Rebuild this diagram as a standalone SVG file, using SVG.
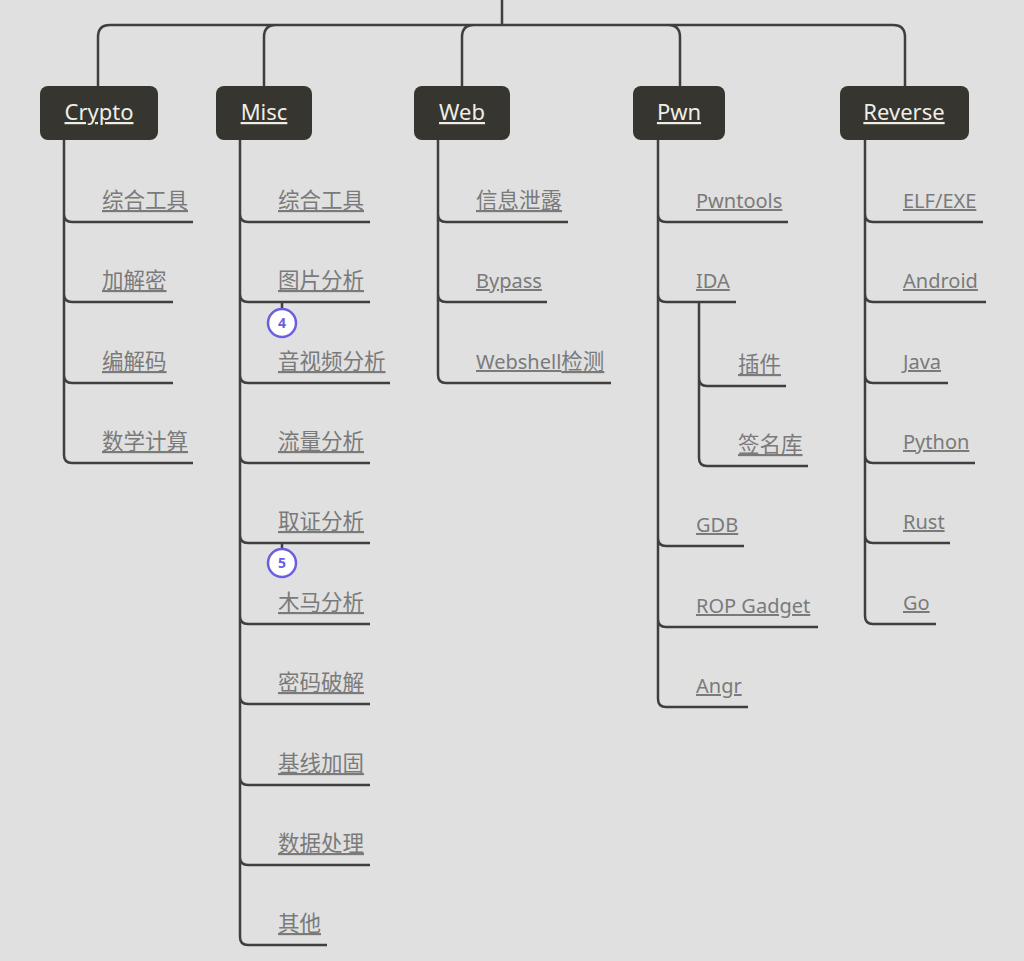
<svg xmlns="http://www.w3.org/2000/svg" width="1024" height="961" viewBox="0 0 1024 961">
<style>
.c{fill:none;stroke:#3f3f3f;stroke-width:2.5}
.n{fill:#36352f}
.nt{fill:#eeeee6;font:22px "Noto Sans","Noto Sans CJK SC",sans-serif;text-decoration:underline;text-anchor:middle}
.t{fill:#7a7a7a;font:20px "Noto Sans","Noto Sans CJK SC",sans-serif;text-decoration:underline}
.z{font-size:21.5px}
.b{fill:#fff;stroke:#6a5fe0;stroke-width:2.5}
.bt{fill:#6a5fe0;font:bold 14px "Noto Sans",sans-serif;text-anchor:middle}
</style>
<rect width="1024" height="961" fill="#e0e0e0"/>
<g id="connectors">
<path class="c" d="M502,0V25M110,25H893M98,86V37Q98,25 110,25M264,86V37Q264,25 276,25M462,86V37Q462,25 474,25M680,86V37Q680,25 668,25M905,86V37Q905,25 893,25"/>
<path class="c" d="M64,140V214Q64,222 72,222H193M64,214V294Q64,302 72,302H173M64,294V375Q64,383 72,383H173M64,375V455Q64,463 72,463H193"/>
<path class="c" d="M240,140V937Q240,945 248,945H327M240,214Q240,222 248,222H370M240,294Q240,302 248,302H370M240,375Q240,383 248,383H390M240,455Q240,463 248,463H370M240,535Q240,543 248,543H370M240,616Q240,624 248,624H370M240,696Q240,704 248,704H370M240,777Q240,785 248,785H370M240,857Q240,865 248,865H370"/>
<path class="c" d="M438,140V375Q438,383 446,383H611M438,214Q438,222 446,222H568M438,294Q438,302 446,302H547"/>
<path class="c" d="M658,140V699Q658,707 666,707H748M658,214Q658,222 666,222H788M658,294Q658,302 666,302H736M658,538Q658,546 666,546H744M658,619Q658,627 666,627H818M699,302V458Q699,466 707,466H808M699,378Q699,386 707,386H786"/>
<path class="c" d="M865,140V616Q865,624 873,624H936M865,214Q865,222 873,222H983M865,294Q865,302 873,302H986M865,375Q865,383 873,383H948M865,455Q865,463 873,463H975M865,535Q865,543 873,543H950"/>
<path class="c" d="M282,302V309M282,543V549"/>
</g>
<g id="crypto"><rect class="n" x="40" y="86" width="118" height="54" rx="8"/><text class="nt" x="99" y="120">Crypto</text>
<text class="t z" x="102" y="208">综合工具</text><text class="t z" x="102" y="288">加解密</text><text class="t z" x="102" y="369">编解码</text><text class="t z" x="102" y="449">数学计算</text></g>
<g id="misc"><rect class="n" x="216" y="86" width="96" height="54" rx="8"/><text class="nt" x="264" y="120">Misc</text>
<text class="t z" x="278" y="208">综合工具</text><text class="t z" x="278" y="288">图片分析</text><text class="t z" x="278" y="369">音视频分析</text><text class="t z" x="278" y="449">流量分析</text><text class="t z" x="278" y="529">取证分析</text><text class="t z" x="278" y="610">木马分析</text><text class="t z" x="278" y="690">密码破解</text><text class="t z" x="278" y="771">基线加固</text><text class="t z" x="278" y="851">数据处理</text><text class="t z" x="278" y="931">其他</text></g>
<g id="web"><rect class="n" x="414" y="86" width="96" height="54" rx="8"/><text class="nt" x="462" y="120">Web</text>
<text class="t z" x="476" y="208">信息泄露</text><text class="t" x="476" y="288">Bypass</text><text class="t" x="476" y="369">Webshell<tspan class="z">检测</tspan></text></g>
<g id="pwn"><rect class="n" x="633" y="86" width="92" height="54" rx="8"/><text class="nt" x="679" y="120">Pwn</text>
<text class="t" x="696" y="208">Pwntools</text><text class="t" x="696" y="288">IDA</text><text class="t z" x="738" y="372">插件</text><text class="t z" x="738" y="452">签名库</text><text class="t" x="696" y="532">GDB</text><text class="t" x="696" y="613">ROP Gadget</text><text class="t" x="696" y="693">Angr</text></g>
<g id="reverse"><rect class="n" x="840" y="86" width="129" height="54" rx="8"/><text class="nt" x="904" y="120">Reverse</text>
<text class="t" x="903" y="208">ELF/EXE</text><text class="t" x="903" y="288">Android</text><text class="t" x="903" y="369">Java</text><text class="t" x="903" y="449">Python</text><text class="t" x="903" y="529">Rust</text><text class="t" x="903" y="610">Go</text></g>
<g id="badge4"><circle class="b" cx="282" cy="323" r="14"/><text class="bt" x="282" y="328">4</text></g>
<g id="badge5"><circle class="b" cx="282" cy="563" r="14"/><text class="bt" x="282" y="568">5</text></g>
</svg>
